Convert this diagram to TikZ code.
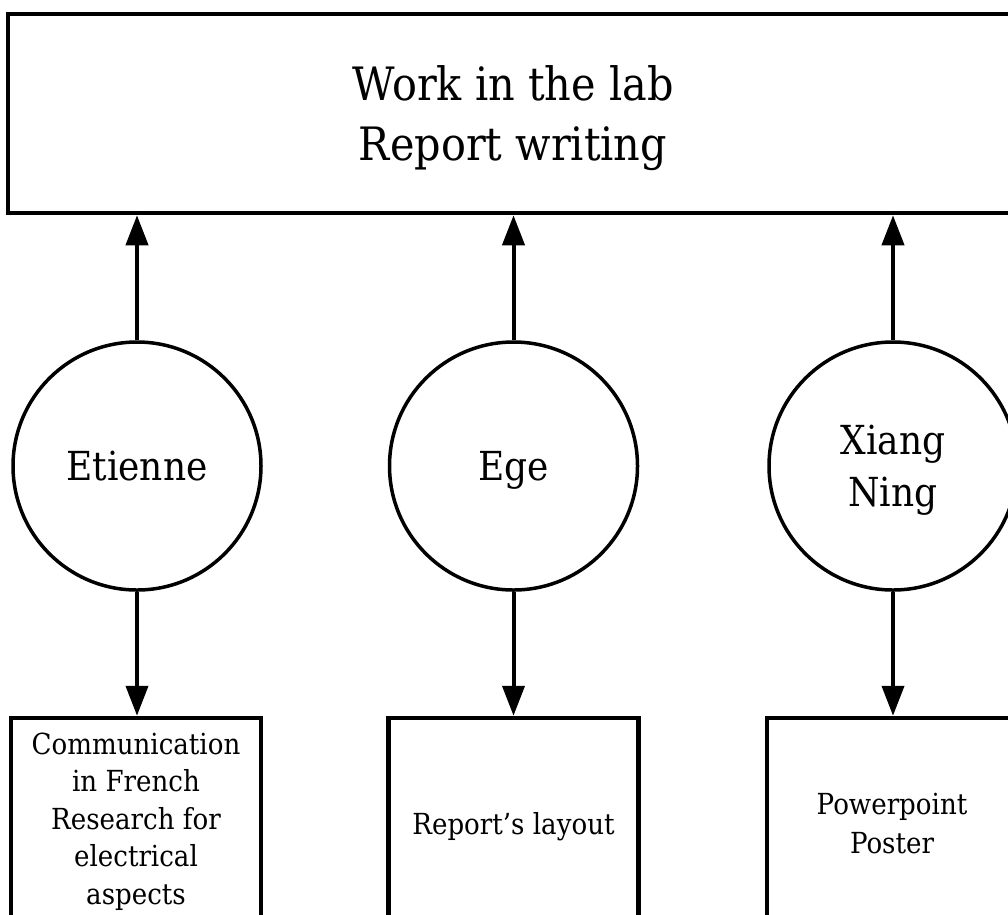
\documentclass[tikz,border=0pt]{standalone}
\usepackage{fontspec}
\usepackage{tikz}
\usetikzlibrary{arrows.meta,positioning}
\newfontfamily\labfont{DejaVu Serif}[FakeStretch=0.9]
\tikzset{
  topbox/.style={draw, line width=4.5pt, align=center, minimum width=1010pt, minimum height=199pt, text depth=0pt, font=\labfont\fontsize{46}{60}\selectfont},
  person/.style={draw, circle, line width=3.5pt, align=center, minimum size=248pt, inner sep=0pt, text depth=0pt, font=\labfont\fontsize{40}{52}\selectfont},
  task/.style={draw, line width=4.5pt, align=center, minimum width=250pt, minimum height=210pt, inner sep=0pt, text depth=0pt, font=\labfont\fontsize{29}{39}\selectfont},
  arrow/.style={-{Triangle[width=22pt,length=30pt]}, line width=4pt}
}
\begin{document}
\begin{tikzpicture}[x=1pt, y=-1pt, node distance=124pt]
  \path[use as bounding box, clip] (0,0) rectangle (1008,914);
  \fill[white] (0,0) rectangle (1008,914);

  \node[topbox] (lab) at (513,113.5) {Work in the lab\\Report writing};

  \node[person] (etienne) at (137,466) {Etienne};
  \node[person] (ege) at (513.5,466) {Ege};
  \node[person] (xiang) at (893,466) {Xiang\\Ning};

  \node[task, below=of etienne, xshift=-1pt, text depth=9pt, font=\labfont\fontsize{29}{37.5}\selectfont] (comm) {Communication\\in French\\Research for\\electrical\\aspects};
  \node[task, below=of ege] (layout) {Report’s layout};
  \node[task, below=of xiang, xshift=-1pt] (poster) {Powerpoint\\Poster};

  \draw[arrow] (etienne.north) -- (etienne.north |- lab.south);
  \draw[arrow] (ege.north) -- (ege.north |- lab.south);
  \draw[arrow] (xiang.north) -- (xiang.north |- lab.south);

  \draw[arrow] (etienne.south) -- (etienne.south |- comm.north);
  \draw[arrow] (ege.south) -- (ege.south |- layout.north);
  \draw[arrow] (xiang.south) -- (xiang.south |- poster.north);
\end{tikzpicture}
\end{document}
